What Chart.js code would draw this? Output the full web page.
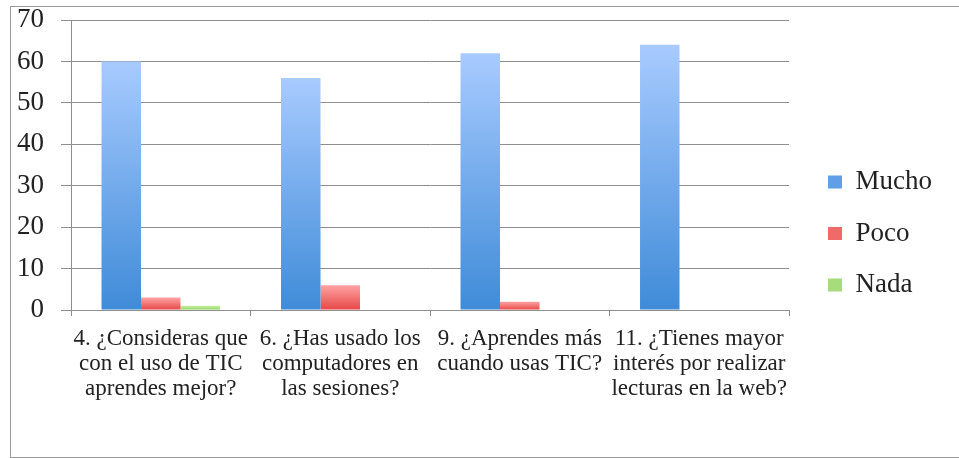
<!DOCTYPE html>
<html>
<head>
<meta charset="utf-8">
<script src="https://cdn.jsdelivr.net/npm/chart.js@4/dist/chart.umd.min.js"></script>
<style>
  html, body { margin: 0; padding: 0; background: #fff; }
  #wrap { position: relative; width: 959px; height: 458px; overflow: hidden; }
  #frame { position: absolute; left: 10px; top: 6px; width: 960px; height: 450px; border: 1px solid #9a9a9a; }
  #myChart { position: absolute; left: 0; top: 0; }
</style>
</head>
<body>
<div id="wrap">
  <div id="frame"></div>
  <canvas id="myChart" width="959" height="458"></canvas>
</div>
<script>
var categories = [
  ['4. ¿Consideras que', 'con el uso de TIC', 'aprendes mejor?'],
  ['6. ¿Has usado los', 'computadores en', 'las sesiones?'],
  ['9. ¿Aprendes más', 'cuando usas TIC?'],
  ['11. ¿Tienes mayor', 'interés por realizar', 'lecturas en la web?']
];
var mucho = [60, 56, 62, 64];
var poco = [3, 6, 2, 0];
var nada = [1, 0, 0, 0];
var yTicks = [0, 10, 20, 30, 40, 50, 60, 70];

var serif = '"Liberation Serif", "Times New Roman", serif';
var gridGray = '#8e8e8e';

// vertical gradient per bar, light at the top, dark at the base
function barFill(light, dark) {
  return function (c) {
    var y = c.chart.scales.y;
    if (!y || c.raw == null) return dark;
    var top = y.getPixelForValue(c.raw);
    var base = y.getPixelForValue(0);
    if (!isFinite(top) || top === base) return dark;
    var g = c.chart.ctx.createLinearGradient(0, top, 0, base);
    g.addColorStop(0, light);
    g.addColorStop(1, dark);
    return g;
  };
}

var legendColors = ['#5e9fe8', '#f06a6a', '#a6dc7c'];

var ctx = document.getElementById('myChart').getContext('2d');
var myChart = new Chart(ctx, {
  type: 'bar',
  data: {
    labels: categories,
    datasets: [{
        label: 'Mucho',
        data: mucho,
        backgroundColor: barFill('#a8cbff', '#3f8bd8'),
        borderWidth: 0
      }, {
        label: 'Poco',
        data: poco,
        backgroundColor: barFill('#ffa3a3', '#e64646'),
        borderWidth: 0
      }, {
        label: 'Nada',
        data: nada,
        backgroundColor: barFill('#c8f2a2', '#8fd05e'),
        borderWidth: 0
      }
    ]
  },
  options: {
    responsive: false,
    animation: false,
    devicePixelRatio: 1,
    layout: {
      padding: { left: 0, top: 20, right: 17, bottom: 11 }
    },
    datasets: {
      bar: { categoryPercentage: 0.66, barPercentage: 1.0 }
    },
    scales: {
      x: {
        afterFit: function (s) { s.height = 137; },
        grid: {
          display: true,
          offset: true,
          drawOnChartArea: false,
          color: gridGray,
          tickLength: 6
        },
        border: { color: gridGray, width: 1 },
        ticks: {
          color: '#222',
          padding: 10,
          maxRotation: 0,
          autoSkip: false,
          font: { family: serif, size: 23, lineHeight: 1.1 }
        }
      },
      y: {
        min: 0,
        max: 70,
        afterFit: function (s) {
          s.width = 71;
          s.paddingTop = 10;
          s.paddingBottom = 10;
        },
        afterBuildTicks: function (s) {
          s.ticks = yTicks.map(function (v) { return { value: v }; });
        },
        grid: { color: gridGray, tickLength: 10 },
        border: { color: gridGray, width: 1 },
        ticks: {
          color: '#222',
          padding: 17,
          font: { family: serif, size: 27 }
        }
      },
      gap: {
        type: 'linear',
        position: 'right',
        afterFit: function (s) { s.width = 14.5; },
        grid: { display: false },
        border: { display: false },
        ticks: { display: false }
      }
    },
    plugins: {
      tooltip: { enabled: false },
      legend: {
        position: 'right',
        align: 'center',
        labels: {
          color: '#222',
          boxWidth: 14,
          boxHeight: 13,
          padding: 24.5,
          font: { family: serif, size: 27 },
          generateLabels: function (chart) {
            return chart.data.datasets.map(function (ds, i) {
              return {
                text: ds.label,
                fillStyle: legendColors[i],
                strokeStyle: legendColors[i],
                lineWidth: 0,
                fontColor: '#222',
                datasetIndex: i
              };
            });
          }
        }
      }
    }
  }
});
</script>
</body>
</html>
